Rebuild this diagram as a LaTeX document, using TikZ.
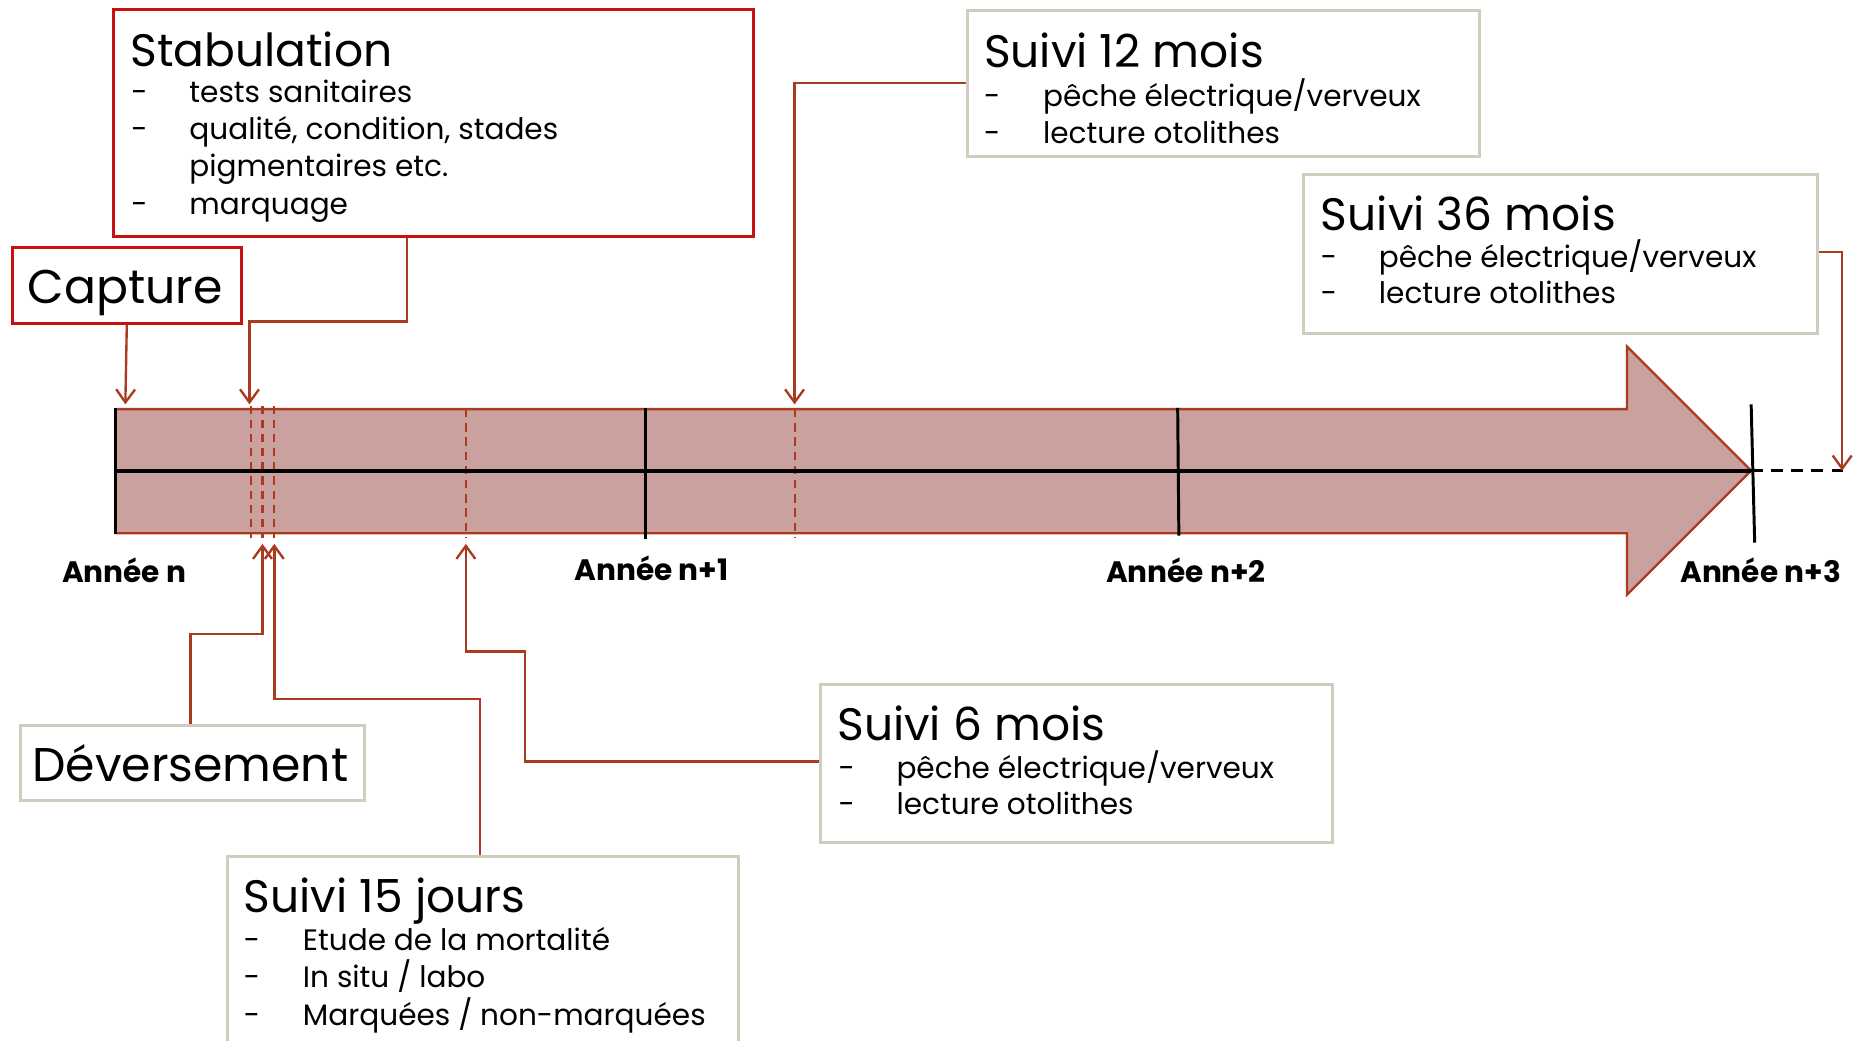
\documentclass[tikz,border=0pt]{standalone}
\usepackage{fontspec}
\setmainfont{Poppins}
\usetikzlibrary{arrows.meta}
\definecolor{arrowfill}{RGB}{203,161,160}
\definecolor{rust}{RGB}{170,58,32}
\definecolor{boxred}{RGB}{200,16,16}
\definecolor{boxgrey}{RGB}{208,204,190}
\tikzset{
  redbox/.style={draw=boxred, line width=2.5pt, inner sep=0, anchor=north west},
  greybox/.style={draw=boxgrey, line width=2.5pt, inner sep=0, anchor=north west},
  ttl/.style={anchor=base west, inner sep=0, font=\fontsize{38.5}{40}\selectfont},
  big/.style={anchor=base, inner sep=0, font=\fontsize{40}{44}\selectfont},
  itm/.style={anchor=base west, inner sep=0, font=\fontsize{25}{27}\selectfont},
  yr/.style={anchor=base, inner sep=0, font=\bfseries\fontsize{25}{27}\selectfont},
  conn/.style={draw=rust, line width=2pt, -{Straight Barb[length=11pt,width=16pt,line width=2pt]}},
  ytick/.style={draw=black, line width=2.5pt},
  dmark/.style={draw=rust, line width=1.8pt, dash pattern=on 7pt off 5pt}
}
\begin{document}
\begin{tikzpicture}[x=1pt,y=1pt]
\useasboundingbox (0,0) rectangle (1568,880);
% timeline arrow
\path[fill=arrowfill, draw=rust, line width=2pt] (98,534) -- (1376,534) -- (1376,587) -- (1481,482) -- (1376,377) -- (1376,429) -- (98,429);
% dashed marks
\draw[dmark] (212,537) -- (212,425);
\draw[dmark] (222,537) -- (222,425);
\draw[dmark] (232,537) -- (232,425);
\draw[dmark] (394,534) -- (394,425);
\draw[dmark] (672,534) -- (672,425);
% center line
\draw[black, line width=3.5pt] (98,482) -- (1481,482);
\draw[black, line width=3pt, dash pattern=on 10pt off 7pt] (1481,482) -- (1560,482);
% year ticks
\draw[ytick] (98,535) -- (98,428);
\draw[ytick] (546,535) -- (546,424);
\draw[ytick] (996,535) -- (997,427);
\draw[ytick] (1481,538) -- (1484,421);
% year labels
\node[yr] (yn) at (105,387) {Année n};
\node[yr] (yn1) at (551,389) {Année n+1};
\node[yr] (yn2) at (1003,387) {Année n+2};
\node[yr] (yn3) at (1489,387) {Année n+3};

% targets on timeline
\coordinate (tcap) at (106,538);
\coordinate (tstab) at (211,538);
\coordinate (t12) at (672,538);
\coordinate (t36) at (1558,482);
\coordinate (tdev) at (222,420);
\coordinate (t15) at (232,420);
\coordinate (t6) at (394,420);

% Capture
\node[redbox, minimum width=194pt, minimum height=64pt] (cap) at (9,672) {};
\node[big] (capt) at (106,623) {Capture};
% Stabulation
\node[redbox, minimum width=541pt, minimum height=192pt] (stab) at (95,873) {};
\node[ttl] (stabt) at (110,824) {Stabulation};
\node[itm] (stab1d) at (111,793) {-};
\node[itm] (stab1) at (160,793) {tests sanitaires};
\node[itm] (stab2d) at (111,762) {-};
\node[itm] (stab2) at (160,762) {qualité, condition, stades};
\node[itm] (stab3) at (160,731) {pigmentaires etc.};
\node[itm] (stab4d) at (111,699) {-};
\node[itm] (stab4) at (160,699) {marquage};
% Suivi 12 mois
\node[greybox, minimum width=433pt, minimum height=123pt] (s12) at (817,872) {};
\node[ttl] (s12t) at (832,823) {Suivi 12 mois};
\node[itm] (s12ad) at (832,790) {-};
\node[itm] (s12a) at (882,790) {pêche électrique/verveux};
\node[itm] (s12bd) at (832,759) {-};
\node[itm] (s12b) at (882,759) {lecture otolithes};
% Suivi 36 mois
\node[greybox, minimum width=435pt, minimum height=135pt] (s36) at (1101,734) {};
\node[ttl] (s36t) at (1117,685) {Suivi 36 mois};
\node[itm] (s36ad) at (1117,654) {-};
\node[itm] (s36a) at (1166,654) {pêche électrique/verveux};
\node[itm] (s36bd) at (1117,623) {-};
\node[itm] (s36b) at (1166,623) {lecture otolithes};
% Deversement
\node[greybox, minimum width=291pt, minimum height=64pt] (dev) at (16,268) {};
\node[big] (devt) at (161,219) {Déversement};
% Suivi 6 mois
\node[greybox, minimum width=433pt, minimum height=133pt] (s6) at (693,302) {};
\node[ttl] (s6t) at (708,254) {Suivi 6 mois};
\node[itm] (s6ad) at (709,222) {-};
\node[itm] (s6a) at (758,222) {pêche électrique/verveux};
\node[itm] (s6bd) at (709,191) {-};
\node[itm] (s6b) at (758,191) {lecture otolithes};
% Suivi 15 jours
\node[greybox, minimum width=432pt, minimum height=180pt] (s15) at (191,157) {};
\node[ttl] (s15t) at (206,108) {Suivi 15 jours};
\node[itm] (s15ad) at (206,76) {-};
\node[itm] (s15a) at (256,76) {Etude de la mortalité};
\node[itm] (s15bd) at (206,45) {-};
\node[itm] (s15b) at (256,45) {In situ / labo};
\node[itm] (s15cd) at (206,13) {-};
\node[itm] (s15c) at (256,13) {Marquées / non-marquées};

% connectors
\draw[conn] (cap.south) -- (tcap);
\draw[conn] ([xshift=249pt]stab.south west) |- (344,608) -| (tstab);
\draw[conn] ([yshift=-62pt]s12.north west) -| (t12);
\draw[conn] ([yshift=-67pt]s36.north east) -| (t36);
\draw[conn] ([xshift=145pt]dev.north west) |- (222,344) -- (tdev);
\draw[conn] ([xshift=215pt]s15.north west) |- (232,289) -- (t15);
\draw[conn] ([yshift=-66pt]s6.north west) -| (444,329) -| (t6);
\end{tikzpicture}
\end{document}
